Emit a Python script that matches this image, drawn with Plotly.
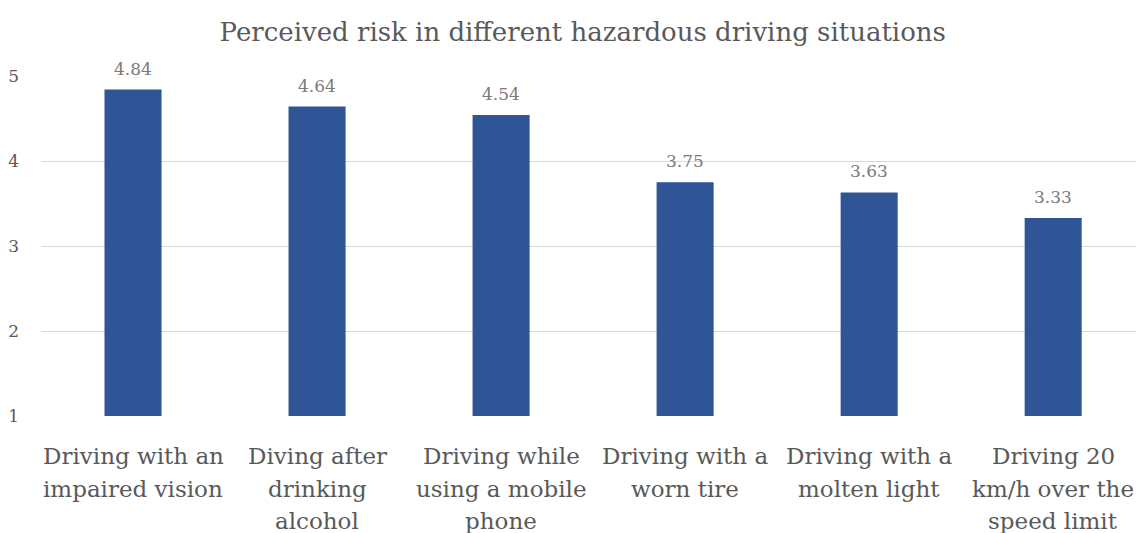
import plotly.graph_objects as go

# Mean perceived risk (scale 1-5) per hazardous driving situation
situations = [
    ["Driving with an", "impaired vision"],
    ["Diving after", "drinking", "alcohol"],
    ["Driving while", "using a mobile", "phone"],
    ["Driving with a", "worn tire"],
    ["Driving with a", "molten light"],
    ["Driving 20", "km/h over the", "speed limit"],
]
risk_scores = [4.84, 4.64, 4.54, 3.75, 3.63, 3.33]
y_ticks = [1, 2, 3, 4, 5]

serif = "Palatino Linotype, Book Antiqua, Palatino, DejaVu Serif, serif"
bar_color = "#2F5597"
text_gray = "#595959"
label_gray = "#7a7a7a"

positions = list(range(len(situations)))

fig = go.Figure(
    go.Bar(
        x=positions,
        y=risk_scores,
        width=0.31,
        marker=dict(color=bar_color, line=dict(width=0)),
        cliponaxis=False,
        hoverinfo="x+y",
    )
)

# value labels above each bar
for pos, val in zip(positions, risk_scores):
    fig.add_annotation(
        x=pos, y=val, xref="x", yref="y",
        text=f"{val:.2f}", showarrow=False,
        yanchor="bottom", yshift=9,
        font=dict(family=serif, size=17, color=label_gray),
    )

# category labels, one annotation per line for wider line spacing
line_gap = 32.5
for pos, lines in zip(positions, situations):
    for i, line in enumerate(lines):
        fig.add_annotation(
            x=pos, y=0, xref="x", yref="paper",
            text=line, showarrow=False,
            yanchor="middle", yshift=-(40 + i * line_gap),
            font=dict(family=serif, size=23, color=text_gray),
        )

fig.update_layout(
    width=1136,
    height=533,
    margin=dict(l=41, r=0, t=76, b=117),
    paper_bgcolor="white",
    plot_bgcolor="white",
    showlegend=False,
    title=dict(
        text="Perceived risk in different hazardous driving situations",
        font=dict(family=serif, size=26, color=text_gray),
        x=0.513,
        xanchor="center",
        y=0.94,
        yanchor="middle",
    ),
    xaxis=dict(
        tickvals=positions,
        showticklabels=False,
        range=[-0.5, 5.45],
        showgrid=False,
        zeroline=False,
        showline=False,
        ticks="",
    ),
    yaxis=dict(
        range=[1, 5],
        tickvals=y_ticks,
        showgrid=True,
        gridcolor="#D9D9D9",
        gridwidth=1.3,
        zeroline=False,
        showline=False,
        ticks="",
        ticklabelstandoff=21,
        tickfont=dict(family=serif, size=17, color=text_gray),
    ),
    bargap=0.69,
)

fig.write_html("out.html")
